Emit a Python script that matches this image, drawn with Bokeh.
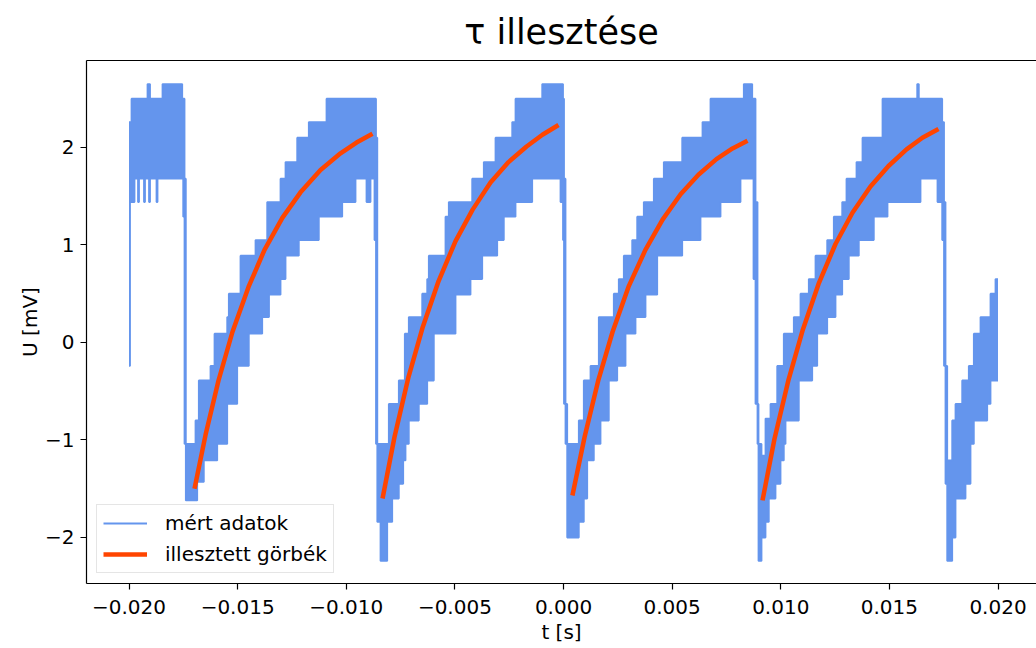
import numpy as np
from bokeh.plotting import figure
from bokeh.models import (Range1d, LinearAxis, FixedTicker, CustomJSTickFormatter,
                          Legend, LegendItem, ColumnDataSource)
from bokeh.embed import file_html
from bokeh.resources import INLINE

# ---- measured data: quantised noise band, read as lower / upper envelope (time in ms) ----
meas_t_ms = [
    -20.000, -19.954, -19.885, -19.747, -19.586, -19.540, -19.310, -19.264, -19.148, -19.079,
    -19.033, -18.734, -18.688, -18.458, -17.551, -17.505, -17.445, -17.385,
    -16.939, -16.861, -16.787, -16.557, -16.249, -16.064, -15.940, -15.480, -15.406, -15.020,
    -14.868, -14.486, -14.177, -13.869, -13.639, -13.556, -13.026, -12.796, -12.258, -12.184,
    -11.724, -11.263, -10.909, -10.186, -9.574, -9.068, -8.884, -8.700, -8.631, -8.571,
    -8.423, -8.115, -8.041, -7.885, -7.581, -7.379, -7.305, -7.273, -7.121, -6.661,
    -6.504, -6.274, -6.200, -5.970, -5.432, -5.280, -4.971, -4.281, -4.203, -3.742,
    -3.669, -3.130, -3.052, -2.748, -2.361, -2.209, -1.441, -0.980, -0.138, -0.023, 0.023,
    0.092, 0.170, 0.704, 0.934, 1.091, 1.243, 1.395, 1.625, 1.703, 2.085,
    2.315, 2.472, 2.545, 2.776, 2.854, 3.162, 3.314, 3.392, 3.696, 3.774,
    4.157, 4.313, 4.617, 5.464, 6.306, 6.398, 6.766, 7.227, 8.147, 8.299,
    8.686, 8.746, 8.838, 8.930,
    8.976, 9.114, 9.298, 9.450, 9.528, 9.758, 9.837, 9.989, 10.140, 10.219,
    10.601, 10.831, 10.909, 11.291, 11.448, 11.600, 11.678, 12.138, 12.442, 12.520,
    12.829, 13.026, 13.132, 13.487, 13.593, 13.763, 14.283, 14.684, 14.914, 16.281,
    16.355, 16.433, 17.215, 17.431, 17.515, 17.583, 17.662,
    17.892, 18.044, 18.352, 18.504, 18.656, 18.734, 18.887, 19.195, 19.503, 19.655,
    19.885, 20.000,
]
meas_lo = [
    -0.24, 1.44, 1.44, 1.68, 1.44, 1.68, 1.44, 1.68, 1.68, 1.44,
    1.68, 1.44, 1.68, 1.68, 1.68, 1.29, -1.04, -1.62,
    -1.62, -1.43, -1.43, -1.21, -1.21, -1.21, -1.04, -0.63, -0.63, -0.24,
    -0.24, 0.09, 0.09, 0.26, 0.26, 0.49, 0.65, 0.89, 0.89, 1.05,
    1.05, 1.29, 1.29, 1.44, 1.68, 1.44, 1.68, 1.05, -1.04, -1.84,
    -2.24, -1.84, -1.84, -1.60, -1.45, -1.21, -1.21, -1.04, -0.80, -0.63,
    -0.63, -0.39, -0.39, 0.09, 0.09, 0.09, 0.49, 0.65, 0.65, 0.89,
    0.89, 0.89, 1.05, 1.29, 1.29, 1.44, 1.68, 1.68, 1.44, 1.05, -0.63,
    -1.04, -2.00, -1.84, -1.60, -1.21, -1.21, -1.04, -1.04, -0.80, -0.39,
    -0.39, -0.24, -0.24, -0.24, 0.09, 0.09, 0.26, 0.26, 0.26, 0.49,
    0.49, 0.89, 0.89, 1.05, 1.29, 1.29, 1.29, 1.44, 1.68, 1.68,
    1.68, 0.65, -0.63, -1.04,
    -2.24, -2.00, -1.84, -1.60, -1.60, -1.45, -1.45, -1.21, -1.04, -0.80,
    -0.80, -0.39, -0.39, -0.39, -0.24, -0.24, 0.09, 0.26, 0.26, 0.49,
    0.65, 0.65, 0.89, 0.89, 1.05, 1.05, 1.29, 1.29, 1.44, 1.44,
    1.44, 1.68, 1.44, 1.05, -0.24, -1.45, -2.24,
    -2.00, -1.60, -1.60, -1.45, -1.45, -1.04, -0.80, -0.80, -0.63, -0.39,
    -0.39, -0.39,
]
meas_hi = [
    2.26, 2.26, 2.50, 2.50, 2.50, 2.50, 2.50, 2.50, 2.65, 2.65,
    2.50, 2.50, 2.50, 2.65, 2.50, 2.50, 1.68, -1.04,
    -0.80, -0.80, -0.39, -0.39, -0.24, 0.09, 0.09, 0.26, 0.50, 0.50,
    0.89, 0.89, 1.05, 1.05, 1.44, 1.44, 1.68, 1.85, 2.10, 2.10,
    2.26, 2.26, 2.50, 2.50, 2.50, 2.50, 2.50, 2.50, 2.10, -1.04,
    -1.04, -1.04, -0.63, -0.63, -0.39, -0.39, 0.09, 0.09, 0.26, 0.26,
    0.50, 0.65, 0.89, 0.89, 1.29, 1.44, 1.44, 1.44, 1.68, 1.68,
    1.85, 2.10, 2.10, 2.10, 2.26, 2.50, 2.50, 2.65, 2.65, 2.50, 1.68,
    -0.63, -1.04, -0.80, -0.39, -0.39, -0.24, -0.24, 0.26, 0.26, 0.26,
    0.50, 0.50, 0.65, 0.89, 0.89, 1.05, 1.05, 1.29, 1.44, 1.44,
    1.68, 1.68, 1.85, 2.10, 2.10, 2.26, 2.50, 2.50, 2.50, 2.65,
    2.50, 2.50, 1.44, -0.63,
    -1.04, -1.16, -0.78, -0.78, -0.63, -0.63, -0.24, -0.24, 0.09, 0.09,
    0.26, 0.26, 0.50, 0.65, 0.65, 0.89, 0.89, 1.05, 1.29, 1.29,
    1.44, 1.68, 1.68, 1.85, 1.85, 2.10, 2.10, 2.50, 2.50, 2.65,
    2.50, 2.50, 2.50, 2.26, 1.44, -0.24, -1.21,
    -0.80, -0.63, -0.39, -0.39, -0.24, -0.24, 0.09, 0.26, 0.26, 0.50,
    0.65, 0.65,
]

# ---- fitted exponential curves (time in ms, voltage in mV) ----
fit1_t_ms = [-16.985, -16.479, -15.881, -15.236, -14.499, -13.763, -12.935, -12.106, -11.185, -10.265, -9.528, -8.792]
fit1_u = [-1.50, -0.95, -0.39, 0.11, 0.57, 0.95, 1.28, 1.54, 1.77, 1.94, 2.05, 2.14]
fit2_t_ms = [-8.33, -7.78, -7.13, -6.49, -5.75, -4.97, -4.19, -3.36, -2.53, -1.70, -0.97, -0.23]
fit2_u = [-1.60, -0.97, -0.35, 0.15, 0.63, 1.04, 1.36, 1.64, 1.85, 2.01, 2.13, 2.23]
fit3_t_ms = [0.41, 0.97, 1.61, 2.26, 2.99, 3.77, 4.56, 5.39, 6.21, 7.04, 7.78, 8.47]
fit3_u = [-1.57, -0.97, -0.38, 0.11, 0.57, 0.95, 1.26, 1.52, 1.72, 1.88, 1.99, 2.07]
fit4_t_ms = [9.16, 9.71, 10.36, 11.00, 11.74, 12.52, 13.30, 14.13, 14.96, 15.79, 16.52, 17.26]
fit4_u = [-1.62, -0.99, -0.38, 0.12, 0.60, 1.01, 1.33, 1.60, 1.81, 1.98, 2.10, 2.19]

x_ticks = [-0.020, -0.015, -0.010, -0.005, 0.0, 0.005, 0.010, 0.015, 0.020]
y_ticks = [-2, -1, 0, 1, 2]

BLUE = "#6495ED"
ORANGE = "#FF4500"
FONT = "DejaVu Sans"

p = figure(width=1036, height=648, output_backend="svg", toolbar_location=None,
           x_range=Range1d(-0.021957, 0.021772), y_range=Range1d(-2.472, 2.892),
           x_axis_type=None, y_axis_type=None,
           min_border_left=86, min_border_right=0, min_border_top=60, min_border_bottom=65)
p.outline_line_color = None
p.background_fill_color = "white"
p.border_fill_color = "white"

p.title.text = "τ illesztése"
p.title.align = "center"
p.title.text_font = FONT
p.title.text_font_size = "35px"
p.title.text_font_style = "normal"
p.title.text_color = "black"
p.title.standoff = 18

src = ColumnDataSource(dict(t=np.array(meas_t_ms) / 1000.0, lo=meas_lo, hi=meas_hi))
p.varea_step(x="t", y1="lo", y2="hi", step_mode="after", source=src, fill_color=BLUE)
r_meas = p.step(x="t", y="hi", mode="after", source=src, line_color=BLUE, line_width=1.8)
p.step(x="t", y="lo", mode="after", source=src, line_color=BLUE, line_width=1.8)

fit_xs = [np.array(a) / 1000.0 for a in (fit1_t_ms, fit2_t_ms, fit3_t_ms, fit4_t_ms)]
fit_ys = [fit1_u, fit2_u, fit3_u, fit4_u]
r_fit = p.multi_line(xs=fit_xs, ys=fit_ys, line_color=ORANGE, line_width=4.5)

def style_axis(ax):
    ax.major_tick_out = 6
    ax.major_tick_in = 0
    ax.minor_tick_out = 0
    ax.minor_tick_in = 0
    ax.axis_line_color = "black"
    ax.axis_line_width = 1.2
    ax.major_tick_line_color = "black"
    ax.major_tick_line_width = 1.2
    ax.major_label_text_font = FONT
    ax.major_label_text_font_size = "20px"
    ax.major_label_text_color = "black"
    ax.axis_label_text_font = FONT
    ax.axis_label_text_font_size = "20px"
    ax.axis_label_text_font_style = "normal"
    ax.axis_label_text_color = "black"

xaxis = LinearAxis(ticker=FixedTicker(ticks=x_ticks), axis_label="t [s]",
                   formatter=CustomJSTickFormatter(code="return (tick < -1e-12 ? '\u2212' : '') + Math.abs(tick).toFixed(3);"))
style_axis(xaxis)
xaxis.major_label_standoff = 10
xaxis.axis_label_standoff = 3
p.add_layout(xaxis, "below")

yaxis = LinearAxis(ticker=FixedTicker(ticks=y_ticks), axis_label="U [mV]",
                   formatter=CustomJSTickFormatter(code="return (tick < -1e-12 ? '\u2212' : '') + Math.abs(tick).toFixed(0);"))
style_axis(yaxis)
yaxis.major_label_standoff = 6
yaxis.axis_label_standoff = 0
p.add_layout(yaxis, "left")

top = LinearAxis(ticker=FixedTicker(ticks=[]), major_tick_out=0, major_tick_in=0,
                 minor_tick_out=0, minor_tick_in=0, major_label_text_font_size="0px",
                 axis_line_color="black", axis_line_width=1.2)
p.add_layout(top, "above")

legend = Legend(items=[LegendItem(label="mért adatok", renderers=[r_meas]),
                       LegendItem(label="illesztett görbék", renderers=[r_fit])],
                location="bottom_left")
legend.label_text_font = FONT
legend.label_text_font_size = "20px"
legend.label_text_color = "black"
legend.glyph_width = 44
legend.glyph_height = 20
legend.label_height = 20
legend.label_standoff = 18
legend.padding = 6
legend.spacing = 7
legend.margin = 10
legend.border_line_color = "#cccccc"
legend.border_line_width = 1
legend.background_fill_color = "white"
legend.background_fill_alpha = 0.8
p.add_layout(legend)

open("out.html", "w").write(file_html(p, INLINE))
